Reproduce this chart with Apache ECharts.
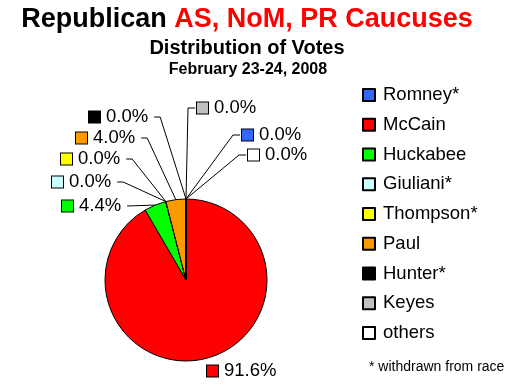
<!DOCTYPE html>
<html><head><meta charset="utf-8">
<script src="https://cdn.jsdelivr.net/npm/echarts@6/dist/echarts.min.js"></script>
<style>html,body{margin:0;padding:0;background:#fff}#c{width:529px;height:392px}</style>
</head><body><div id="c"></div>
<script>
var candidates = ['Romney*', 'McCain', 'Huckabee', 'Giuliani*', 'Thompson*', 'Paul', 'Hunter*', 'Keyes', 'others'];
var votesPct = [0.0, 91.6, 4.4, 0.0, 0.0, 4.0, 0.0, 0.0, 0.0];
var colors = ['#3366FF', '#FF0000', '#00FF00', '#CCFFFF', '#FFFF00', '#FF9900', '#000000', '#C0C0C0', '#FFFFFF'];

// label placement (left edge x, middle y, side of pie)
var labelPos = [
  {x: 242, y: 135, side: 'r'},
  {x: 207, y: 371, side: 'n'},
  {x: 62,  y: 206, side: 'l', straight: true},
  {x: 52,  y: 182, side: 'l'},
  {x: 61,  y: 159, side: 'l'},
  {x: 76,  y: 138, side: 'l'},
  {x: 89,  y: 117, side: 'l'},
  {x: 197, y: 108, side: 'r'},
  {x: 248, y: 155, side: 'r'}
];

var FONT = '"Liberation Sans", Arial, sans-serif';
var rich = {t: {fontSize: 18.5, fontFamily: FONT, color: '#000'}, g: {width: 6}};
colors.forEach(function (c, i) {
  rich['s' + i] = {width: 11, height: 11, backgroundColor: c, borderColor: '#000', borderWidth: 1};
});

var data = candidates.map(function (n, i) {
  var d = {name: n, value: votesPct[i], itemStyle: {color: colors[i]}};
  if (i === 1) d.labelLine = {show: false};
  return d;
});

var chart = echarts.init(document.getElementById('c'));
chart.setOption({
  animation: false,
  backgroundColor: '#fff',
  title: [
    {text: '{a|Republican }{b|AS, NoM, PR Caucuses}', left: 242, top: 1, textAlign: 'center',
     textStyle: {rich: {
       a: {fontSize: 27, fontWeight: 'bold', fontFamily: FONT, color: '#000'},
       b: {fontSize: 27, fontWeight: 'bold', fontFamily: FONT, color: '#FF0000'}}}},
    {text: 'Distribution of Votes', left: 242, top: 33, textAlign: 'center',
     textStyle: {fontSize: 20, fontWeight: 'bold', fontFamily: FONT, color: '#000'}},
    {text: 'February 23-24, 2008', left: 243, top: 57, textAlign: 'center',
     textStyle: {fontSize: 16, fontWeight: 'bold', fontFamily: FONT, color: '#000'}},
    {text: '* withdrawn from race', left: 364, top: 355,
     textStyle: {fontSize: 14, fontWeight: 'normal', fontFamily: FONT, color: '#000'}}
  ],
  legend: {
    orient: 'vertical', left: 357, top: 80, icon: 'rect',
    itemWidth: 12, itemHeight: 12, itemGap: 9.75,
    textStyle: {fontSize: 18.5, fontFamily: FONT, color: '#000', lineHeight: 20, padding: [0, 0, 0, 3]},
    data: candidates
  },
  series: [{
    type: 'pie',
    center: [186, 280],
    radius: 81,
    startAngle: 90,
    clockwise: true,
    avoidLabelOverlap: false,
    itemStyle: {borderColor: '#000', borderWidth: 1},
    emphasis: {disabled: true},
    label: {
      show: true, position: 'outside',
      formatter: function (p) { return '{s' + p.dataIndex + '|}{g|}{t|' + p.value.toFixed(1) + '%}'; },
      rich: rich
    },
    labelLine: {show: true, lineStyle: {color: '#000', width: 1}, length: 10, length2: 10},
    labelLayout: function (p) {
      var L = labelPos[p.dataIndex];
      var out = {x: L.x, y: L.y, align: 'left', verticalAlign: 'middle'};
      if (p.labelLinePoints && L.side !== 'n') {
        var a = p.labelLinePoints[0];
        var end, bend;
        if (L.side === 'l') {
          end = [L.x + p.labelRect.width + 5, L.y];
          bend = L.straight ? end : [end[0] + 6, L.y];
        } else {
          end = [L.x - 2, L.y];
          bend = [L.x - 9, L.y];
        }
        out.labelLinePoints = [a, bend, end];
      }
      return out;
    },
    data: data
  }]
});
</script></body></html>
